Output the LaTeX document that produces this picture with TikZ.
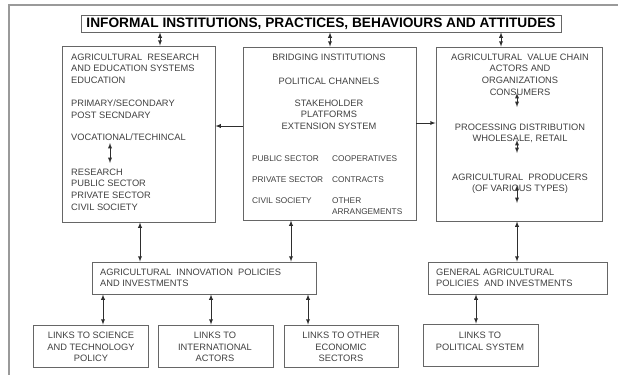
\documentclass[tikz,border=0pt]{standalone}
\usepackage{fontspec}
\setmainfont{Liberation Sans}
\usepackage{tikz}
\tikzset{>=latex}
\definecolor{boxgray}{HTML}{666666}
\definecolor{txtgray}{HTML}{404040}
\definecolor{framegray}{HTML}{9A9A9A}
\definecolor{arrgray}{HTML}{2E2E2E}

\begin{document}
\begin{tikzpicture}
  [
   x=1pt,y=-1pt,
   box/.style 2 args={draw=boxgray,line width=0.8pt,minimum width=#1,minimum height=#2,inner sep=0pt},
   txt/.style={text=txtgray,inner sep=0pt,align=left,font=\fontsize{9.3}{11.8}\selectfont},
   txtc/.style={txt,align=center,anchor=north},
   smalltxt/.style={txt,anchor=north west,font=\fontsize{8.3}{11.2}\selectfont},
   link/.style={<->,draw=arrgray,line width=0.85pt}
  ]
  \useasboundingbox (0,0) rectangle (618,375);
  % cut frame of the page
  \draw[framegray,line width=1.2pt] (618,5) -- (9,5) -- (9,375);

  % boxes
  \node[box={480pt}{17pt}] (title) at (321,23.5)
       {\fontsize{13.7}{16}\selectfont\bfseries INFORMAL INSTITUTIONS, PRACTICES, BEHAVIOURS AND ATTITUDES};
  \node[box={153pt}{176pt}] (ares)   at (138.5,134)  {};
  \node[box={173pt}{173pt}] (bridge) at (329.5,133.5) {};
  \node[box={166pt}{174pt}] (chain)  at (519,134)    {};
  \node[box={224pt}{32pt}]  (aipol)  at (204,278)    {};
  \node[box={179pt}{32pt}]  (gapol)  at (517.5,278)  {};
  \node[box={115pt}{42pt}]  (lsci)   at (90.5,346)   {};
  \node[box={115pt}{42pt}]  (lint)   at (215.5,346)  {};
  \node[box={114pt}{42pt}]  (leco)   at (341,346)    {};
  \node[box={115pt}{42pt}]  (lpol)   at (480.5,345)  {};

  % research and education
  \node[txt,anchor=north west] (ares1) at (71,53.5)  {AGRICULTURAL\ \ RESEARCH\\AND EDUCATION SYSTEMS\\EDUCATION};
  \node[txt,anchor=north west] (ares2) at (71,99.5)  {PRIMARY/SECONDARY\\POST SECNDARY};
  \node[txt,anchor=north west] (ares3) at (71,133.5) {VOCATIONAL/TECHINCAL};
  \node[txt,anchor=north west] (ares4) at (71,168.5) {RESEARCH\\PUBLIC SECTOR\\PRIVATE SECTOR\\CIVIL SOCIETY};

  % bridging institutions
  \node[txtc] (br1) at (329,53.5) {BRIDGING INSTITUTIONS};
  \node[txtc] (br2) at (329,77.5) {POLITICAL CHANNELS};
  \node[txtc] (br3) at (329,99.5) {STAKEHOLDER\\PLATFORMS\\EXTENSION SYSTEM};
  \node[smalltxt] (br4) at (252,156) {PUBLIC SECTOR\\[9.5pt]PRIVATE SECTOR\\[9.5pt]CIVIL SOCIETY};
  \node[smalltxt] (br5) at (332,156) {COOPERATIVES\\[9.5pt]CONTRACTS\\[9.5pt]OTHER\\ARRANGEMENTS};

  % value chain
  \node[txtc] (ch1) at (520,53.5)  {AGRICULTURAL\ \ VALUE CHAIN\\ACTORS AND\\ORGANIZATIONS\\CONSUMERS};
  \node[txtc] (ch2) at (520,123.5) {PROCESSING DISTRIBUTION\\WHOLESALE, RETAIL};
  \node[txtc] (ch3) at (520,173.5) {AGRICULTURAL\ \ PRODUCERS\\(OF VARIOUS TYPES)};

  % policies and links
  \node[txt,anchor=north west] (ai) at (100,268.5) {AGRICULTURAL\ \ INNOVATION\ \ POLICIES\\AND INVESTMENTS};
  \node[txt,anchor=north west] (ga) at (436,268.5) {GENERAL AGRICULTURAL\\POLICIES\ \ AND INVESTMENTS};
  \node[txtc] (ls) at (91,331.5)  {LINKS TO SCIENCE\\AND TECHNOLOGY\\POLICY};
  \node[txtc] (li) at (215,331.5) {LINKS TO\\INTERNATIONAL\\ACTORS};
  \node[txtc] (le) at (341,331.5) {LINKS TO OTHER\\ECONOMIC\\SECTORS};
  \node[txtc] (lp) at (480,331.5) {LINKS TO\\POLITICAL SYSTEM};

  % arrows
  \draw[link] (title.south -| 160,0) -- (ares.north -| 160,0);
  \draw[link] (title.south -| 330,0) -- (bridge.north -| 330,0);
  \draw[link] (title.south -| 501,0) -- (chain.north -| 501,0);
  \draw[->,draw=arrgray,line width=0.85pt] (bridge.west |- 0,126) -- (ares.east |- 0,126);
  \draw[->,draw=arrgray,line width=0.85pt] (bridge.east |- 0,123) -- (chain.west |- 0,123);
  \draw[link] (ares.south -| 140,0)   -- (aipol.north -| 140,0);
  \draw[link] (bridge.south -| 291,0) -- (aipol.north -| 291,0);
  \draw[link] (chain.south -| 517,0)  -- (gapol.north -| 517,0);
  \draw[link] (aipol.south -| 103,0)  -- (lsci.north -| 103,0);
  \draw[link] (aipol.south -| 211,0)  -- (lint.north -| 211,0);
  \draw[link] (aipol.south -| 308,0)  -- (leco.north -| 308,0);
  \draw[link] (gapol.south -| 476,0)  -- (lpol.north -| 476,0);

  % arrows inside the boxes
  \coordinate (e1) at (110,143); \coordinate (e2) at (110,163);
  \coordinate (v1) at (517,93);  \coordinate (v2) at (517,107);
  \coordinate (v3) at (517,140); \coordinate (v4) at (517,153);
  \coordinate (v5) at (517,185); \coordinate (v6) at (517,203);
  \draw[link] (e1) -- (e2);
  \draw[link] (v1) -- (v2);
  \draw[link] (v3) -- (v4);
  \draw[link] (v5) -- (v6);
\end{tikzpicture}
\end{document}
